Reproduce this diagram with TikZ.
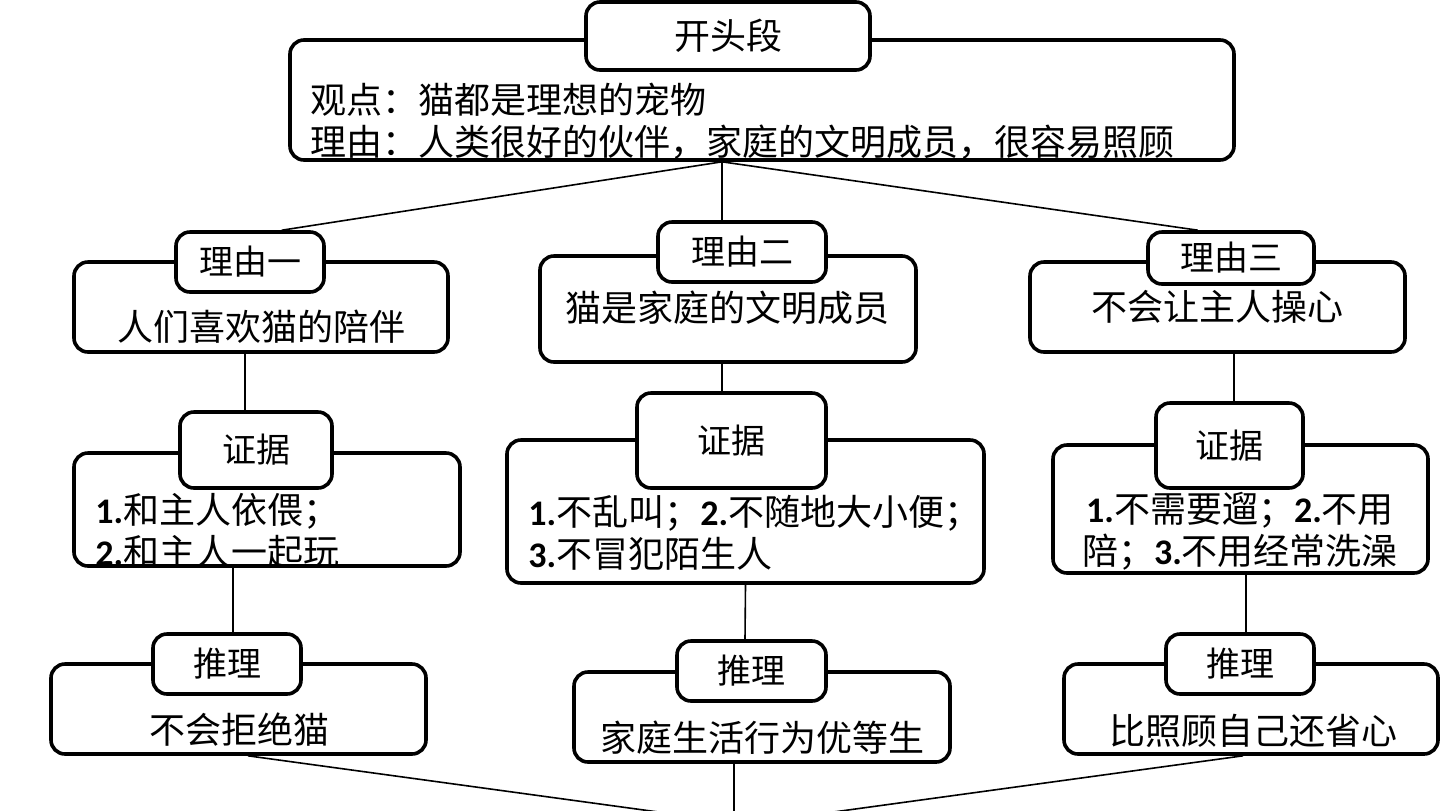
\documentclass[tikz,border=0pt]{standalone}
\usepackage{fontspec}
\setmainfont{Noto Sans CJK SC}
\newfontfamily\numfont{Carlito}
\usetikzlibrary{positioning}
\newcommand{\num}[1]{{\numfont\bfseries #1}}

\begin{document}
\begin{tikzpicture}[x=0.5pt, y=-0.5pt,
    box/.style={draw, line width=1.8pt, rounded corners=7pt, fill=white, inner sep=0pt},
    tag/.style={box, font=\fontsize{17}{20}\selectfont},
    txt/.style={inner sep=0pt, font=\fontsize{18}{21}\selectfont},
    link/.style={draw, line width=0.8pt}]
        \clip (0,0) rectangle (1440,810);
        \fill[white] (0,0) rectangle (1440,810);

        % Opening paragraph
        \node[box, minimum width=472pt, minimum height=60pt] (top) at (762,100) {};
        \node[box, minimum width=142pt, minimum height=34pt, font=\fontsize{18}{21}\selectfont] (title) at (728,36) {开头段};
        \node[txt, anchor=west, align=left] (toptxt) at (310,121) {观点：猫都是理想的宠物\\理由：人类很好的伙伴，家庭的文明成员，很容易照顾};

        % Reason boxes
        \node[box, minimum width=187pt, minimum height=45pt] (r1) at (261,307) {};
        \node[tag, minimum width=74pt, minimum height=30pt] (tag1) at (250,262) {理由一};
        \node[txt] (r1txt) at (261,327) {人们喜欢猫的陪伴};

        \node[box, minimum width=188pt, minimum height=53pt] (r2) at (728,309) {};
        \node[tag, minimum width=84pt, minimum height=30pt] (tag2) at (742,252) {理由二};
        \node[txt] (r2txt) at (727,308) {猫是家庭的文明成员};

        \node[box, minimum width=187.5pt, minimum height=45pt] (r3) at (1217.5,307) {};
        \node[tag, minimum width=83pt, minimum height=26pt] (tag3) at (1231,258) {理由三};
        \node[txt] (r3txt) at (1217,307) {不会让主人操心};

        % Evidence boxes
        \node[box, minimum width=193pt, minimum height=56.5pt] (e1) at (267,509.5) {};
        \node[tag, minimum width=76pt, minimum height=38pt] (ev1) at (256,450) {证据};
        \node[txt, anchor=west, align=left] (e1txt) at (95,531) {\num{1.}和主人依偎；\\\num{2.}和主人一起玩};

        \node[box, minimum width=238.5pt, minimum height=71.5pt] (e2) at (745.5,511.5) {};
        \node[tag, minimum width=94.5pt, minimum height=47.5pt] (ev2) at (731.5,440.5) {证据};
        \node[txt, anchor=west, align=left] (e2txt) at (528,533) {\num{1.}不乱叫；\num{2.}不随地大小便；\\\num{3.}不冒犯陌生人};

        \node[box, minimum width=187.5pt, minimum height=64pt] (e3) at (1240.5,509) {};
        \node[tag, minimum width=73.5pt, minimum height=42.5pt] (ev3) at (1229.5,445.5) {证据};
        \node[txt, align=center] (e3txt) at (1240,531) {\num{1.}不需要遛；\num{2.}不用\\陪；\num{3.}不用经常洗澡};

        % Inference boxes
        \node[box, minimum width=187.5pt, minimum height=45pt] (f1) at (238.5,709) {};
        \node[tag, minimum width=74pt, minimum height=30pt] (inf1) at (227,664) {推理};
        \node[txt] (f1txt) at (239,730) {不会拒绝猫};

        \node[box, minimum width=188pt, minimum height=45pt] (f2) at (762,717) {};
        \node[tag, minimum width=74.5pt, minimum height=30pt] (inf2) at (751.5,671) {推理};
        \node[txt] (f2txt) at (762,738) {家庭生活行为优等生};

        \node[box, minimum width=187pt, minimum height=45pt] (f3) at (1251,709) {};
        \node[tag, minimum width=74pt, minimum height=30pt] (inf3) at (1240,664) {推理};
        \node[txt] (f3txt) at (1253,731) {比照顾自己还省心};

        % Connectors
        \coordinate (hub) at ([xshift=-20pt]top.south);
        \coordinate (sink) at (746,824);
        \coordinate (sinkmid) at (734,830);
        \draw[link] (hub) -- (tag1.45);
        \draw[link] (hub) -- (hub |- tag2.north);
        \draw[link] (hub) -- (tag3.140);

        \draw[link] ([xshift=-8pt]r1.south) -- ([xshift=-5.5pt]ev1.north);
        \draw[link] ([xshift=-17pt]e1.south) -- ([xshift=3pt]inf1.north);
        \draw[link] ([xshift=-3pt]r2.south) -- ([xshift=-4.75pt]ev2.north);
        \draw[link] (e2.south) -- ([xshift=-3.25pt]inf2.north);
        \draw[link] ([xshift=8.25pt]r3.south) -- ([xshift=2.25pt]ev3.north);
        \draw[link] ([xshift=2.75pt]e3.south) -- ([xshift=3pt]inf3.north);

        \draw[link] ([xshift=4.75pt]f1.south) -- (sink);
        \draw[link] ([xshift=-14pt]f2.south) -- (sinkmid);
        \draw[link] ([xshift=-4pt]f3.south) -- (sink);
    \end{tikzpicture}
\end{document}
